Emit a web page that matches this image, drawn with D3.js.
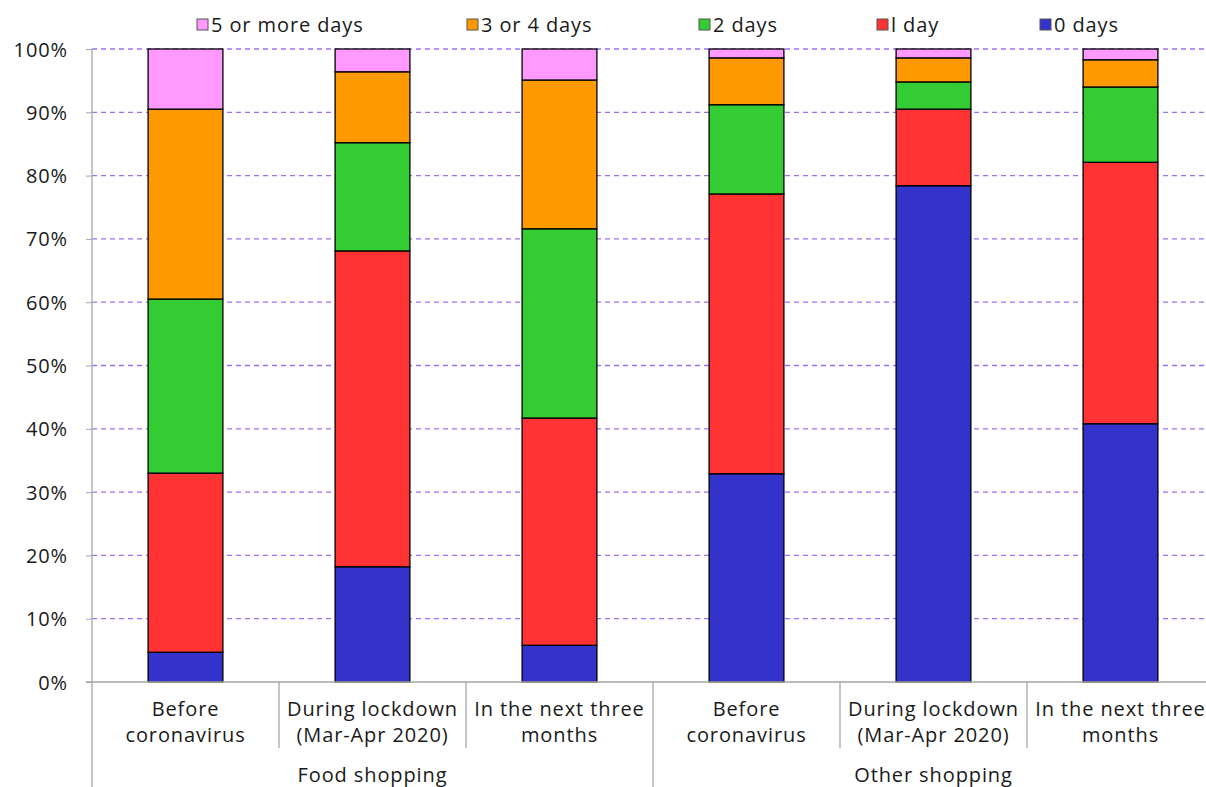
<!DOCTYPE html>
<html>
<head>
<meta charset="utf-8">
<script src="https://cdn.jsdelivr.net/npm/d3@7"></script>
<style>
body{margin:0;background:#fff}
text{font-family:"Open Sans",sans-serif;fill:#1a1a1a;letter-spacing:0.9px}
</style>
</head>
<body>
<svg></svg>
<script>
// categories (two-line labels) and groups
var categories = ["Before|coronavirus", "During lockdown|(Mar-Apr 2020)", "In the next three|months",
                  "Before|coronavirus", "During lockdown|(Mar-Apr 2020)", "In the next three|months"]
var groups = ["Food shopping", "Other shopping"]
var seriesNames = ["0 days", "1 day", "2 days", "3 or 4 days", "5 or more days"]
var legendLabels = ["5 or more days", "3 or 4 days", "2 days", "l day", "0 days"]
var colors = ["#3333cc", "#ff3333", "#33cc33", "#ff9900", "#ff99ff"]

// share in each category (%)
var zeroDays = [4.7, 18.2, 5.8, 32.9, 78.4, 40.8]
var oneDay = [28.3, 49.9, 35.9, 44.2, 12.1, 41.3]
var twoDays = [27.5, 17.1, 29.9, 14.1, 4.3, 11.9]
var threeFourDays = [30.0, 11.2, 23.5, 7.4, 3.8, 4.3]
var fiveMoreDays = [9.5, 3.6, 4.9, 1.4, 1.4, 1.7]

var yTicks = [0, 10, 20, 30, 40, 50, 60, 70, 80, 90, 100]

var screen = {width:1206, height:787}
var plot = {left:92, right:1214, top:49, bottom:682}

var svg = d3.select("svg").attr("width", screen.width).attr("height", screen.height)

var rows = categories.map(function(c, i){
    return {i:i, "0 days":zeroDays[i], "1 day":oneDay[i], "2 days":twoDays[i],
            "3 or 4 days":threeFourDays[i], "5 or more days":fiveMoreDays[i]}
})
var stack = d3.stack().keys(seriesNames)(rows)

var xScale = d3.scaleBand().domain(d3.range(categories.length))
    .range([plot.left, plot.right]).paddingInner(0.6).paddingOuter(0.3)
var bandX = d3.scaleBand().domain(d3.range(categories.length)).range([plot.left, plot.right])
var yScale = d3.scaleLinear().domain([0, 100]).range([plot.bottom, plot.top])

// grid
svg.append("g").selectAll("line").data(yTicks.slice(1)).enter().append("line")
    .attr("x1", plot.left).attr("x2", screen.width)
    .attr("y1", function(d){return yScale(d)}).attr("y2", function(d){return yScale(d)})
    .attr("stroke", "#a070f0").attr("stroke-width", 1.3).attr("stroke-dasharray", "5,4")

// bars
svg.append("g").selectAll("g").data(stack).enter().append("g")
    .attr("fill", function(d, k){return colors[k]})
    .selectAll("rect").data(function(d){return d}).enter().append("rect")
    .attr("x", function(d){return xScale(d.data.i)})
    .attr("width", xScale.bandwidth())
    .attr("y", function(d){return yScale(d[1])})
    .attr("height", function(d){return yScale(d[0]) - yScale(d[1])})
    .attr("stroke", "#000").attr("stroke-width", 1.3)

// y axis
var yAxis = d3.axisLeft(yScale).tickValues(yTicks).tickSize(6).tickFormat(function(d){return d + "%"})
var yg = svg.append("g").attr("transform", "translate(" + plot.left + ",0)").call(yAxis)
yg.select(".domain").remove()
yg.selectAll(".tick line").attr("stroke", "#a6a6a6")
yg.selectAll(".tick text").attr("x", -24).attr("dy", "0.35em")
    .style("font-size", "20px").style("font-family", "'Open Sans',sans-serif").attr("fill", "#1a1a1a")
svg.append("line").attr("x1", plot.left).attr("x2", plot.left)
    .attr("y1", plot.top).attr("y2", screen.height).attr("stroke", "#a6a6a6").attr("stroke-width", 1.3)
svg.append("line").attr("x1", plot.left - 6).attr("x2", screen.width)
    .attr("y1", plot.bottom).attr("y2", plot.bottom).attr("stroke", "#a6a6a6").attr("stroke-width", 1.3)

// category dividers
svg.append("g").selectAll("line").data(d3.range(1, categories.length + 1)).enter().append("line")
    .attr("x1", function(d){return bandX(d - 1) + bandX.bandwidth()})
    .attr("x2", function(d){return bandX(d - 1) + bandX.bandwidth()})
    .attr("y1", plot.bottom)
    .attr("y2", function(d){return d % 3 == 0 ? screen.height : 748})
    .attr("stroke", "#a6a6a6").attr("stroke-width", 1.3)

// category labels
var catG = svg.append("g").selectAll("text").data(categories).enter().append("text")
    .attr("text-anchor", "middle").style("font-size", "20px")
    .attr("transform", function(d, i){return "translate(" + (bandX(i) + bandX.bandwidth() / 2) + ",716)"})
catG.selectAll("tspan").data(function(d){return d.split("|")}).enter().append("tspan")
    .attr("x", 0).attr("y", function(d, j){return j * 26})
    .text(function(d){return d})

svg.append("g").selectAll("text").data(groups).enter().append("text")
    .attr("text-anchor", "middle").style("font-size", "20px")
    .attr("x", function(d, g){return (bandX(g * 3) + bandX(g * 3 + 2) + bandX.bandwidth()) / 2})
    .attr("y", 782)
    .text(function(d){return d})

// legend
var legendX = [197, 467, 699, 877, 1040]
var lg = svg.append("g").selectAll("g").data(legendLabels).enter().append("g")
    .attr("transform", function(d, i){return "translate(" + legendX[i] + ",25)"})
lg.append("rect").attr("x", 0).attr("y", -6).attr("width", 11).attr("height", 11)
    .attr("fill", function(d, i){return colors[4 - i]}).attr("stroke", "#555").attr("stroke-width", 1)
lg.append("text").attr("x", 14).attr("dy", "0.35em").style("font-size", "20px")
    .text(function(d){return d})
</script>
</body>
</html>
